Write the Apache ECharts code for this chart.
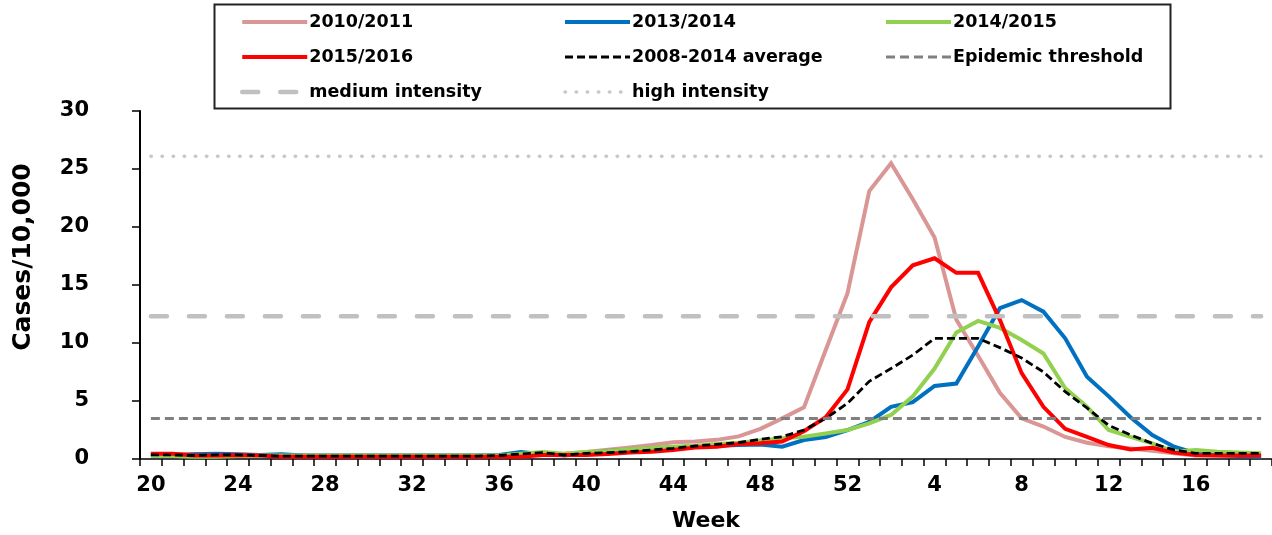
<!DOCTYPE html>
<html>
<head>
<meta charset="utf-8">
<script src="https://cdn.jsdelivr.net/npm/echarts@6/dist/echarts.min.js"></script>
<style>
html,body{margin:0;padding:0;background:#fff;}
#chart{width:1272px;height:535px;}
</style>
</head>
<body>
<div id="chart"></div>
<script>
const weeks = ['20','21','22','23','24','25','26','27','28','29','30','31','32','33','34','35','36','37','38','39','40','41','42','43','44','45','46','47','48','49','50','51','52','1','2','3','4','5','6','7','8','9','10','11','12','13','14','15','16','17','18','19'];

const s2010_2011 = [0.4,0.4,0.4,0.4,0.35,0.35,0.35,0.3,0.3,0.3,0.3,0.3,0.3,0.3,0.3,0.3,0.3,0.35,0.4,0.45,0.6,0.8,1.0,1.2,1.45,1.5,1.65,1.95,2.6,3.5,4.45,9.4,14.3,23.1,25.5,22.4,19.1,12.0,8.9,5.7,3.5,2.8,1.9,1.4,1.1,0.9,0.7,0.5,0.3,0.3,0.3,0.3];
const s2013_2014 = [0.3,0.3,0.4,0.45,0.4,0.35,0.4,0.3,0.3,0.3,0.3,0.3,0.3,0.3,0.3,0.3,0.35,0.6,0.4,0.3,0.5,0.7,0.8,0.9,1.0,1.1,1.15,1.2,1.25,1.06,1.64,1.9,2.5,3.2,4.5,4.9,6.3,6.5,9.7,13.0,13.7,12.7,10.4,7.1,5.4,3.6,2.07,1.06,0.5,0.35,0.26,0.2];
const s2014_2015 = [0.3,0.25,0.2,0.2,0.25,0.3,0.3,0.3,0.3,0.3,0.3,0.3,0.3,0.3,0.3,0.3,0.3,0.45,0.6,0.45,0.6,0.7,0.85,0.95,1.05,1.15,1.3,1.4,1.6,1.78,1.92,2.2,2.5,3.07,3.8,5.4,7.8,10.9,11.9,11.3,10.25,9.1,6.1,4.5,2.5,1.9,1.35,0.63,0.78,0.63,0.55,0.49];
const s2015_2016 = [0.45,0.45,0.3,0.3,0.35,0.3,0.2,0.2,0.2,0.2,0.2,0.2,0.2,0.2,0.2,0.2,0.2,0.2,0.34,0.34,0.34,0.43,0.55,0.63,0.78,1.0,1.06,1.29,1.35,1.5,2.4,3.6,6.0,11.8,14.8,16.7,17.3,16.05,16.05,12.0,7.4,4.5,2.6,1.9,1.2,0.83,0.97,0.55,0.35,0.3,0.3,0.3];
const avg2008_2014 = [0.35,0.35,0.3,0.35,0.35,0.3,0.25,0.25,0.25,0.25,0.25,0.25,0.25,0.25,0.25,0.25,0.3,0.43,0.55,0.34,0.49,0.55,0.63,0.78,0.92,1.12,1.26,1.41,1.7,1.92,2.5,3.5,4.8,6.7,7.8,8.96,10.4,10.4,10.4,9.6,8.7,7.5,5.8,4.4,2.9,2.07,1.35,0.78,0.49,0.49,0.49,0.49];

const epidemicThreshold = 3.5;
const mediumIntensity = 12.3;
const highIntensity = 26.1;

const yTicks = {min: 0, max: 30, step: 5};

const FONT = 'DejaVu Sans';

function thresholdData(v) {
  return [[weeks[0], v], [weeks[weeks.length - 1], v]];
}

const chart = echarts.init(document.getElementById('chart'), null, {renderer: 'canvas'});

function lineSeries(name, data, color, width, type, z, cap) {
  return {
    name: name,
    type: 'line',
    data: data,
    symbol: 'none',
    showSymbol: false,
    smooth: false,
    animation: false,
    z: z,
    lineStyle: {color: color, width: width, type: type, cap: cap || 'butt', join: 'miter'},
    itemStyle: {color: color}
  };
}

const legendCommon = {
  orient: 'vertical',
  itemWidth: 65,
  itemHeight: 14,
  itemGap: 17,
  padding: 0,
  selectedMode: false,
  itemStyle: {opacity: 0},
  lineStyle: {width: 'inherit', type: 'inherit', cap: 'inherit'},
  textStyle: {fontFamily: FONT, fontWeight: 'bold', fontSize: 17.5, color: '#000', padding: [0, 0, 0, -3]}
};

const option = {
  animation: false,
  backgroundColor: '#fff',
  grid: {left: 140, right: 0, top: 111, bottom: 76, containLabel: false, outerBoundsMode: 'none'},
  legend: [
    Object.assign({}, legendCommon, {left: 240, top: 13, data: ['2010/2011', '2015/2016', 'medium intensity']}),
    Object.assign({}, legendCommon, {left: 563, top: 13, data: ['2013/2014', '2008-2014 average', 'high intensity']}),
    Object.assign({}, legendCommon, {left: 884, top: 13, data: ['2014/2015', 'Epidemic threshold']})
  ],
  graphic: [{
    type: 'rect',
    left: 212, top: 2,
    shape: {width: 956, height: 104},
    style: {fill: 'none', stroke: '#222', lineWidth: 2},
    silent: true
  }],
  xAxis: {
    type: 'category',
    data: weeks,
    boundaryGap: true,
    name: 'Week',
    nameLocation: 'middle',
    nameGap: 51,
    nameTextStyle: {fontFamily: FONT, fontWeight: 'bold', fontSize: 22, color: '#000'},
    axisLine: {lineStyle: {color: '#000', width: 1.5}},
    axisTick: {show: true, interval: 0, length: 7, lineStyle: {color: '#000', width: 1.5}},
    axisLabel: {interval: 3, margin: 16, fontFamily: FONT, fontWeight: 'bold', fontSize: 21, color: '#000'},
    splitLine: {show: false}
  },
  yAxis: {
    type: 'value',
    min: yTicks.min,
    max: yTicks.max,
    interval: yTicks.step,
    name: 'Cases/10,000',
    nameLocation: 'middle',
    nameGap: 104,
    nameRotate: 90,
    nameMoveOverlap: false,
    nameTextStyle: {fontFamily: FONT, fontWeight: 'bold', fontSize: 25, color: '#000', padding: [0, 0, 0, 56]},
    axisLine: {show: true, lineStyle: {color: '#000', width: 2}},
    axisTick: {show: true, length: 8, lineStyle: {color: '#000', width: 1.5}},
    axisLabel: {margin: 51, fontFamily: FONT, fontWeight: 'bold', fontSize: 21, color: '#000'},
    splitLine: {show: false}
  },
  series: [
    lineSeries('2010/2011', s2010_2011, '#D99694', 4, 'solid', 2),
    lineSeries('2013/2014', s2013_2014, '#0070C0', 4, 'solid', 3),
    lineSeries('2014/2015', s2014_2015, '#92D050', 4, 'solid', 4),
    lineSeries('2015/2016', s2015_2016, '#FF0000', 4, 'solid', 5),
    lineSeries('2008-2014 average', avg2008_2014, '#000000', 2.8, [8, 4], 6),
    lineSeries('Epidemic threshold', thresholdData(epidemicThreshold), '#808080', 3, [9, 5], 7),
    lineSeries('medium intensity', thresholdData(mediumIntensity), '#C0C0C0', 4.5, [16, 22], 7, 'round'),
    lineSeries('high intensity', thresholdData(highIntensity), '#C8C8C8', 3.5, [0.5, 10.6], 7, 'round')
  ]
};

chart.setOption(option);
</script>
</body>
</html>
